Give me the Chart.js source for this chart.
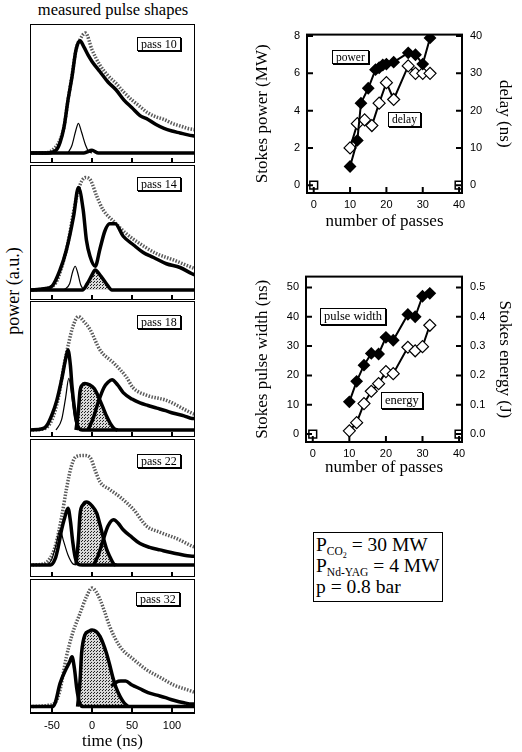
<!DOCTYPE html>
<html>
<head>
  <title>Stokes pulse shapes</title>
  <script src="https://cdn.jsdelivr.net/npm/chart.js"></script>
  <style>
    body {
      margin: 0;
      width: 522px;
      height: 752px;
      position: relative;
      overflow: hidden;
      background: #fff;
      font-family: 'Liberation Serif', serif;
      color: #000;
    }
    canvas { position: absolute; }
    .txt { position: absolute; white-space: nowrap; }
    .rot { transform: translate(-50%, -50%) rotate(-90deg); }
    .tag {
      position: absolute;
      border: 1px solid #000;
      background: #fff;
      padding: 0 3px;
      white-space: nowrap;
      box-shadow: 1px 1px 0 #000;
    }
    .pass { font-size: 12px; line-height: 12px; }
    .info {
      position: absolute;
      left: 313px;
      top: 532px;
      width: 126px;
      height: 67px;
      border: 1px solid #000;
      font-size: 19.5px;
      line-height: 21px;
      padding: 1px 0 0 2px;
      white-space: nowrap;
      box-sizing: content-box;
    }
    .info sub { font-size: 11.5px; vertical-align: baseline; position: relative; top: 4px; line-height: 0; }
    .info sub sub { font-size: 8px; top: 3px; }
  </style>
</head>
<body>
  <div class="txt" style="left:20px; top:0px; width:186px; text-align:center; font-size:16.5px;">measured pulse shapes</div>
  <div class="txt rot" style="left:13px; top:291px; font-size:18px;">power (a.u.)</div>

  <canvas id="panel0" width="165" height="139" style="left:30px; top:24px;"></canvas>
  <canvas id="panel1" width="165" height="135" style="left:30px; top:165px;"></canvas>
  <canvas id="panel2" width="165" height="136" style="left:30px; top:301px;"></canvas>
  <canvas id="panel3" width="165" height="138" style="left:30px; top:439px;"></canvas>
  <canvas id="panel4" width="165" height="173" style="left:30px; top:579px;"></canvas>

  <div class="tag pass" style="left:137px; top:37px;">pass 10</div>
  <div class="tag pass" style="left:137px; top:177px;">pass 14</div>
  <div class="tag pass" style="left:137px; top:315px;">pass 18</div>
  <div class="tag pass" style="left:137px; top:454px;">pass 22</div>
  <div class="tag pass" style="left:136px; top:592px;">pass 32</div>

  <canvas id="powerChart" width="272" height="220" style="left:250px; top:20px;"></canvas>
  <canvas id="widthChart" width="272" height="225" style="left:250px; top:262px;"></canvas>

  <div class="tag" style="left:332px; top:50px; font-size:11.5px; line-height:12px;">power</div>
  <div class="tag" style="left:388px; top:112px; font-size:11.5px; line-height:13px;">delay</div>
  <div class="tag" style="left:320px; top:308px; font-size:12.5px; line-height:15px;">pulse width</div>
  <div class="tag" style="left:381px; top:392px; font-size:12.5px; line-height:15px;">energy</div>

  <div class="info">P<sub>CO<sub>2</sub></sub> = 30 MW<br>P<sub>Nd-YAG</sub> = 4 MW<br>p = 0.8 bar</div>

  <script>
    // ---- pulse shapes, [time (ns), power (a.u.)] ----
    const timeTicks = [-50, 0, 50, 100];

    const pass10Total = [[-78,0],[-60,0],[-50,0.02],[-40,0.1],[-35,0.2],[-30,0.41],[-25,0.6],[-20,0.8],[-15,0.88],[-8,0.93],[0,0.8],[10,0.68],[20,0.6],[30,0.54],[40,0.47],[50,0.41],[60,0.36],[70,0.31],[80,0.28],[90,0.26],[100,0.23],[110,0.21],[120,0.19],[129,0.18]];
    const pass10Pump = [[-78,0],[-55,0],[-45,0.02],[-40,0.08],[-35,0.2],[-30,0.41],[-25,0.59],[-20,0.8],[-15,0.87],[-10,0.82],[-5,0.76],[0,0.71],[10,0.63],[20,0.55],[30,0.49],[40,0.41],[50,0.35],[60,0.29],[70,0.26],[80,0.22],[90,0.19],[100,0.17],[110,0.155],[120,0.14],[129,0.13]];
    const pass10Stokes = [[-78,0],[-10,0],[0,0.02],[8,0],[129,0]];
    const pass10Thin = [[-30,0],[-25,0.06],[-20,0.18],[-17,0.23],[-13,0.16],[-8,0.06],[-4,0.01],[0,0]];

    const pass14Total = [[-78,0],[-60,0.01],[-45,0.06],[-38,0.18],[-30,0.38],[-22,0.66],[-15,0.84],[-8,0.9],[-2,0.88],[6,0.75],[14,0.64],[27,0.55],[43,0.45],[60,0.37],[81,0.29],[102,0.24],[125,0.18],[129,0.17]];
    const pass14Pump = [[-78,0],[-60,0.01],[-50,0.03],[-40,0.16],[-32,0.32],[-23,0.59],[-17,0.82],[-11,0.64],[-7,0.4],[-2.5,0.27],[4,0.19],[10,0.33],[16,0.47],[22,0.53],[29,0.53],[39,0.43],[52,0.36],[64,0.3],[77,0.26],[93,0.21],[110,0.18],[125,0.13],[129,0.12]];
    const pass14Thin = [[-35,0],[-28,0.05],[-24,0.15],[-21,0.19],[-18,0.14],[-14,0.04],[-10,0]];
    const pass14Stokes = [[-78,0],[-12,0],[-6,0.05],[0,0.12],[4,0.16],[10,0.12],[18,0.05],[25,0],[129,0]];

    const pass18Total = [[-78,0],[-60,0.01],[-50,0.08],[-42,0.25],[-35,0.5],[-30,0.65],[-24,0.8],[-17,0.88],[-10,0.84],[-2.5,0.78],[10,0.62],[27,0.52],[43,0.41],[51,0.33],[68,0.27],[93,0.23],[125,0.13],[129,0.12]];
    const pass18First = [[-78,0],[-62,0.01],[-57,0.03],[-50,0.12],[-44,0.23],[-38,0.39],[-33,0.55],[-30,0.62],[-27,0.5],[-25,0.34],[-21,0.13],[-17,0.02],[-12,0],[129,0]];
    const pass18Thin = [[-45,0],[-38,0.08],[-33,0.25],[-29,0.4],[-26,0.3],[-22,0.1],[-18,0]];
    const pass18Stokes = [[-20,0],[-17,0.15],[-15,0.3],[-12,0.35],[-9,0.36],[-3,0.35],[3,0.32],[10,0.23],[18,0.11],[23,0.05],[28,0.01],[32,0]];
    const pass18Last = [[-5,0],[2,0.1],[8,0.22],[15,0.33],[20,0.37],[25,0.39],[32,0.35],[39,0.29],[50,0.24],[60,0.21],[70,0.19],[81,0.17],[92,0.15],[102,0.13],[115,0.11],[125,0.09],[129,0.09]];

    const pass22Total = [[-78,0],[-60,0.01],[-50,0.08],[-45,0.17],[-38,0.38],[-32,0.6],[-26,0.78],[-20,0.86],[-10,0.87],[-2,0.85],[4,0.75],[10,0.66],[22,0.6],[35,0.54],[52,0.44],[68,0.31],[85,0.26],[106,0.21],[125,0.15],[129,0.14]];
    const pass22First = [[-78,0],[-52,0],[-46,0.05],[-42,0.15],[-38,0.28],[-34,0.38],[-30,0.45],[-27,0.35],[-24,0.18],[-21,0.06],[-18,0.01],[-12,0],[129,0]];
    const pass22Thin = [[-55,0],[-50,0.05],[-45,0.16],[-40,0.28],[-36,0.2],[-30,0.08],[-24,0.01],[-20,0]];
    const pass22Stokes = [[-20,0],[-17,0.2],[-15,0.4],[-11,0.48],[-7,0.5],[0,0.47],[6,0.41],[10,0.32],[14,0.22],[18,0.13],[22,0.07],[27,0.01],[30,0]];
    const pass22Last = [[2,0],[8,0.08],[14,0.2],[20,0.31],[27,0.36],[33,0.33],[39,0.28],[50,0.22],[60,0.17],[72,0.14],[85,0.12],[106,0.09],[125,0.07],[129,0.07]];

    const pass32Total = [[-78,0],[-55,0.01],[-45,0.04],[-40,0.13],[-32,0.39],[-25,0.56],[-15,0.73],[-7,0.86],[0,0.93],[5,0.9],[10,0.84],[16,0.74],[22,0.63],[35,0.47],[52,0.37],[68,0.29],[85,0.23],[102,0.17],[125,0.12],[129,0.11]];
    const pass32First = [[-78,0],[-50,0],[-46,0.03],[-40,0.18],[-32,0.3],[-28,0.35],[-25,0.39],[-22,0.3],[-19,0.14],[-16,0.04],[-12,0],[129,0]];
    const pass32Stokes = [[-18,0],[-15,0.2],[-13,0.42],[-9,0.56],[-4,0.59],[0,0.6],[5,0.59],[10,0.55],[18,0.42],[22,0.33],[26,0.23],[30,0.15],[35,0.08],[40,0.03],[45,0]];
    const pass32Last = [[24,0.16],[30,0.19],[36,0.2],[42,0.2],[50,0.17],[60,0.14],[70,0.11],[81,0.09],[92,0.07],[102,0.05],[115,0.03],[125,0.02],[129,0.02]];

    // ---- summary plots vs number of passes ----
    const passTicks = [0, 10, 20, 30, 40];
    const powerPasses = [10, 12, 13, 15, 17, 18, 19, 20, 22, 26, 28, 30, 32];
    const powerMW = [1.0, 2.4, 4.4, 5.2, 6.2, 6.3, 6.45, 6.5, 6.6, 7.1, 7.0, 6.5, 7.9];
    const delayPasses = [10, 12, 14, 16, 18, 20, 22, 26, 28, 30, 32];
    const delayNs = [10, 16.5, 17.5, 16, 22, 27.5, 23, 32, 30, 30, 30];
    const powerTicks = [0, 2, 4, 6, 8];
    const delayTicks = [0, 10, 20, 30, 40];

    const widthPasses = [10, 12, 14, 16, 18, 20, 22, 26, 28, 30, 32];
    const widthNs = [11, 18, 23.5, 27.5, 27.3, 33, 32, 40.8, 40, 47, 48];
    const energyPasses = [10, 12, 14, 16, 18, 20, 22, 26, 28, 30, 32];
    const energyJ = [0.011, 0.039, 0.104, 0.146, 0.172, 0.213, 0.206, 0.296, 0.284, 0.298, 0.371];
    const widthTicks = [0, 10, 20, 30, 40, 50];
    const energyTicks = [0, 0.1, 0.2, 0.3, 0.4, 0.5];

    const cornerX = [0, 40];
    const cornerY = [0, 0];

    // ---- helpers ----
    const serif = 'Liberation Serif';
    const sans = 'Liberation Sans';

    function stipple() {
      const c = document.createElement('canvas');
      c.width = 3; c.height = 3;
      const g = c.getContext('2d');
      g.fillStyle = '#d8d8d8';
      g.fillRect(0, 0, 3, 3);
      g.fillStyle = '#222';
      g.fillRect(0, 0, 1, 1);
      g.fillRect(1, 2, 1, 1);
      return g.createPattern(c, 'repeat');
    }
    const dots = stipple();

    function pts(pairs) {
      return pairs.map(p => ({ x: p[0], y: p[1] }));
    }
    function zip(xs, ys) {
      return xs.map((x, i) => ({ x: x, y: ys[i] }));
    }

    // box round the plot area plus inward tick marks
    const framePlugin = {
      id: 'frame',
      afterDatasetsDraw(chart, args, opts) {
        const ctx = chart.ctx;
        const a = chart.chartArea;
        const len = opts.len || 5;
        ctx.save();
        ctx.strokeStyle = '#000';
        ctx.lineWidth = opts.width || 2;
        ctx.strokeRect(a.left, a.top, a.right - a.left, a.bottom - a.top);
        ctx.beginPath();
        (opts.x || []).forEach(v => {
          const px = chart.scales.x.getPixelForValue(v);
          ctx.moveTo(px, a.bottom); ctx.lineTo(px, a.bottom - len);
        });
        (opts.y || []).forEach(v => {
          const py = chart.scales.y.getPixelForValue(v);
          ctx.moveTo(a.left, py); ctx.lineTo(a.left + len, py);
        });
        (opts.y2 || []).forEach(v => {
          const py = chart.scales.y2.getPixelForValue(v);
          ctx.moveTo(a.right, py); ctx.lineTo(a.right - len, py);
        });
        ctx.stroke();
        ctx.restore();
      }
    };

    // ---- pulse shape panels ----
    const panels = [
      { total: pass10Total, thick: [pass10Pump, pass10Stokes], thin: [pass10Thin], shaded: [], yMin: -0.078 },
      { total: pass14Total, thick: [pass14Pump], thin: [pass14Thin], shaded: [pass14Stokes], yMin: -0.08 },
      { total: pass18Total, thick: [pass18First, pass18Last], thin: [pass18Thin], shaded: [pass18Stokes], yMin: -0.054 },
      { total: pass22Total, thick: [pass22First, pass22Last], thin: [pass22Thin], shaded: [pass22Stokes], yMin: -0.095 },
      { total: pass32Total, thick: [pass32First, pass32Last], thin: [], shaded: [pass32Stokes], yMin: -0.05 }
    ];

    panels.forEach((p, i) => {
      const last = i === panels.length - 1;
      const datasets = [];
      p.thin.forEach(d => datasets.push({
        data: pts(d), borderColor: '#000', borderWidth: 1.2, pointRadius: 0,
        cubicInterpolationMode: 'monotone', fill: false
      }));
      p.thick.forEach(d => datasets.push({
        data: pts(d), borderColor: '#000', borderWidth: 3.5, pointRadius: 0,
        cubicInterpolationMode: 'monotone', fill: false
      }));
      p.shaded.forEach(d => datasets.push({
        data: pts(d), borderColor: '#000', borderWidth: 3.5, pointRadius: 0,
        cubicInterpolationMode: 'monotone', fill: 'origin', backgroundColor: dots
      }));
      datasets.push({
        data: pts(p.total), borderColor: '#5a5a5a', borderWidth: 3.5, borderDash: [1.5, 1.5],
        pointRadius: 0, cubicInterpolationMode: 'monotone', fill: false
      });

      new Chart(document.getElementById('panel' + i), {
        type: 'line',
        data: { datasets: datasets },
        options: {
          responsive: false,
          animation: false,
          events: [],
          layout: { padding: 0 },
          plugins: {
            legend: { display: false },
            tooltip: { enabled: false },
            frame: { x: timeTicks, len: 5, width: 2 }
          },
          scales: {
            x: {
              type: 'linear', min: -77.5, max: 128.75,
              display: last,
              afterBuildTicks: s => { s.ticks = timeTicks.map(v => ({ value: v })); },
              afterFit: s => { if (last) s.height = 39; },
              grid: { display: false, drawTicks: false },
              border: { display: false },
              ticks: { color: '#000', padding: 6, font: { family: sans, size: 11 } },
              title: {
                display: true, text: 'time (ns)', color: '#000',
                padding: { top: 0, bottom: 0 }, font: { family: serif, size: 17 }
              }
            },
            y: { min: p.yMin, max: 1, display: false }
          }
        },
        plugins: [framePlugin]
      });
    });

    // ---- right hand plots ----
    function sideChart(id, cfg) {
      return new Chart(document.getElementById(id), {
        type: 'line',
        data: {
          datasets: [
            {
              data: cfg.filled, yAxisID: 'y', borderColor: '#000', borderWidth: 2,
              pointStyle: 'rectRot', pointRadius: 5, pointBackgroundColor: '#000',
              pointBorderColor: '#000', tension: 0
            },
            {
              data: cfg.open, yAxisID: 'y2', borderColor: '#000', borderWidth: 2,
              pointStyle: 'rectRot', pointRadius: 6, pointBackgroundColor: '#fff',
              pointBorderColor: '#000', pointBorderWidth: 1.2, tension: 0
            },
            {
              data: zip(cornerX, cornerY), yAxisID: 'y', showLine: false,
              pointStyle: 'rect', pointRadius: 5.5, pointBackgroundColor: '#fff',
              pointBorderColor: '#000', pointBorderWidth: 1.5
            }
          ]
        },
        options: {
          responsive: false,
          animation: false,
          events: [],
          layout: { padding: { top: 14, right: 7, bottom: cfg.padBottom, left: 0 } },
          plugins: {
            legend: { display: false },
            tooltip: { enabled: false },
            frame: { x: passTicks, y: cfg.yTicks, y2: cfg.y2Ticks, len: 6, width: 2 }
          },
          scales: {
            x: {
              type: 'linear', min: -1.85, max: 40.8,
              afterBuildTicks: s => { s.ticks = passTicks.map(v => ({ value: v })); },
              afterFit: s => { s.height = cfg.xHeight; },
              grid: { display: false, drawTicks: false },
              border: { display: false },
              ticks: { color: '#000', padding: 5, font: { family: sans, size: 11 } },
              title: {
                display: true, text: 'number of passes', color: '#000',
                padding: { top: 0, bottom: 0 }, font: { family: serif, size: 17 }
              }
            },
            y: {
              position: 'left', min: cfg.yMin, max: cfg.yMax,
              afterBuildTicks: s => { s.ticks = cfg.yTicks.map(v => ({ value: v })); },
              afterFit: s => { s.width = cfg.leftWidth; },
              grid: { display: false, drawTicks: false },
              border: { display: false },
              ticks: { color: '#000', padding: 7, font: { family: sans, size: 11 } },
              title: {
                display: true, text: cfg.yTitle, color: '#000',
                padding: { top: 2, bottom: 0 }, font: { family: serif, size: 17 }
              }
            },
            y2: {
              position: 'right', min: cfg.yMin * cfg.ratio, max: cfg.yMax * cfg.ratio,
              afterBuildTicks: s => { s.ticks = cfg.y2Ticks.map(v => ({ value: v })); },
              afterFit: s => { s.width = 53; },
              grid: { display: false, drawTicks: false },
              border: { display: false },
              ticks: {
                color: '#000', padding: 8, font: { family: sans, size: 11 },
                callback: cfg.y2Format
              },
              title: {
                display: true, text: cfg.y2Title, color: '#000',
                padding: { top: 0, bottom: 0 }, font: { family: serif, size: 17 }
              }
            }
          }
        },
        plugins: [framePlugin]
      });
    }

    sideChart('powerChart', {
      filled: zip(powerPasses, powerMW),
      open: zip(delayPasses, delayNs),
      yTicks: powerTicks, y2Ticks: delayTicks,
      yMin: -0.42, yMax: 8.08, ratio: 5,
      yTitle: 'Stokes power (MW)', y2Title: 'delay (ns)',
      y2Format: v => v,
      leftWidth: 57, xHeight: 39, padBottom: 8
    });

    sideChart('widthChart', {
      filled: zip(widthPasses, widthNs),
      open: zip(energyPasses, energyJ),
      yTicks: widthTicks, y2Ticks: energyTicks,
      yMin: -2.7, yMax: 53.7, ratio: 0.01,
      yTitle: 'Stokes pulse width (ns)', y2Title: 'Stokes energy (J)',
      y2Format: v => v.toFixed(1),
      leftWidth: 56, xHeight: 36, padBottom: 9
    });
  </script>
</body>
</html>
